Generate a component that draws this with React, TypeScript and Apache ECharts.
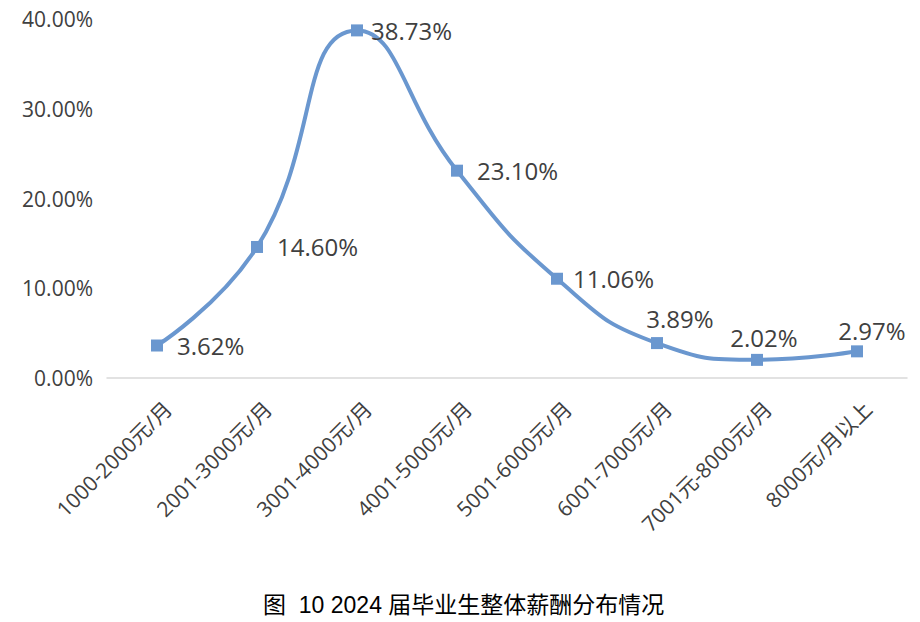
import React, { useEffect, useRef } from "react";
import * as echarts from "echarts";

const categories = [
  "1000-2000元/月",
  "2001-3000元/月",
  "3001-4000元/月",
  "4001-5000元/月",
  "5001-6000元/月",
  "6001-7000元/月",
  "7001元-8000元/月",
  "8000元/月以上",
];
const values = [3.62, 14.6, 38.73, 23.1, 11.06, 3.89, 2.02, 2.97];
const labelPositions = ["right", "right", "right", "right", "right", "top", "top", "top"];
const labelOffsets = [
  [0, 0],
  [0, 0],
  [-6, 0],
  [0, 0],
  [-4, 0],
  [23, 7],
  [7, 10],
  [15, 11],
];
const yTicks = [0, 10, 20, 30, 40];
const title = "图  10 2024 届毕业生整体薪酬分布情况";

export default function App() {
  const ref = useRef<HTMLDivElement>(null);
  useEffect(() => {
    if (!ref.current) return;
    const chart = echarts.init(ref.current, null, { renderer: "svg" });
    const font = "'Open Sans', 'Noto Sans CJK SC', sans-serif";
    chart.setOption({
      animation: false,
      backgroundColor: "#ffffff",
      title: {
        text: title,
        left: 258,
        top: 588,
        textStyle: {
          fontFamily: "'Liberation Sans', 'Noto Sans CJK SC', sans-serif",
          fontSize: 23,
          fontWeight: "normal",
          color: "#000000",
        },
      },
      grid: { left: 107, right: 13, top: 19, bottom: 244, containLabel: false },
      xAxis: {
        type: "category",
        data: categories,
        axisLine: { show: true, lineStyle: { color: "#d9d9d9", width: 1.5 } },
        axisTick: { show: false },
        axisLabel: {
          rotate: 45,
          interval: 0,
          margin: 16,
          verticalAlign: "top",
          lineHeight: 31,
          color: "#404040",
          fontSize: 21,
          fontFamily: font,
        },
      },
      yAxis: {
        type: "value",
        min: yTicks[0],
        max: yTicks[yTicks.length - 1],
        interval: 10,
        axisLine: { show: false },
        axisTick: { show: false },
        splitLine: { show: false },
        axisLabel: {
          margin: 14,
          color: "#404040",
          fontSize: 21,
          fontFamily: font,
          formatter: (v: number) => v.toFixed(2) + "%",
        },
      },
      series: [
        {
          type: "line",
          smooth: 0.5,
          data: values.map((v, i) => ({
            value: v,
            label: { position: labelPositions[i], offset: labelOffsets[i] },
          })),
          symbol: "rect",
          symbolSize: 12,
          lineStyle: { color: "#6a97cf", width: 4 },
          itemStyle: { color: "#6a97cf" },
          label: {
            show: true,
            distance: 14,
            color: "#404040",
            fontSize: 24,
            fontFamily: font,
            formatter: (p: any) => p.value.toFixed(2) + "%",
          },
        },
      ],
    });
    return () => chart.dispose();
  }, []);
  return <div ref={ref} style={{ width: 920, height: 622, position: "absolute", left: 0, top: 0 }} />;
}
